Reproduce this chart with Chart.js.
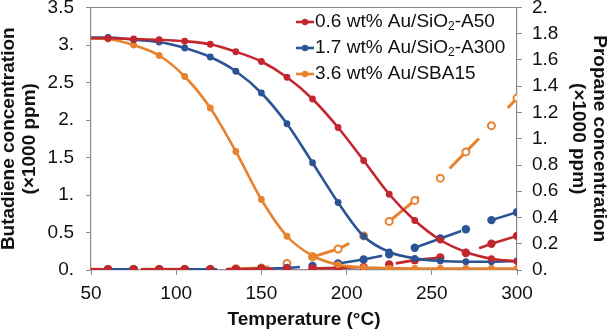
<!DOCTYPE html>
<html>
<head>
<meta charset="utf-8">
<script src="https://cdn.jsdelivr.net/npm/chart.js@4/dist/chart.umd.min.js"></script>
<style>
  html, body { margin: 0; padding: 0; background: #fff; }
  #chart { display: block; }
</style>
</head>
<body>
<canvas id="chart" width="608" height="334"></canvas>
<script>
// Temperatures (°C); 50 is only the start of each curve, it has no marker
const temps = [50, 60, 75, 90, 105, 120, 135, 150, 165, 180, 195, 210, 225, 240, 255, 270, 285, 300];

// Butadiene concentration (x1000 ppm), left axis
const butA50   = [3.09, 3.09, 3.08, 3.07, 3.05, 3.01, 2.91, 2.78, 2.57, 2.28, 1.90, 1.46, 1.01, 0.66, 0.40, 0.24, 0.15, 0.115];
const butA300  = [3.10, 3.10, 3.07, 3.04, 2.96, 2.84, 2.65, 2.36, 1.95, 1.43, 0.90, 0.45, 0.24, 0.155, 0.12, 0.11, 0.11, 0.12];
const butSBA15 = [3.09, 3.08, 3.00, 2.86, 2.58, 2.16, 1.58, 0.94, 0.45, 0.19, 0.07, 0.035, 0.025, 0.02, 0.02, 0.02, 0.02, 0.02];

// Propane concentration (x1000 ppm), right axis
const proA50   = [0.005, 0.005, 0.005, 0.005, 0.005, 0.005, 0.005, 0.01, 0.01, 0.012, 0.016, 0.022, 0.042, 0.075, 0.095, 0.13, 0.20, 0.26];
const proA300  = [0.005, 0.005, 0.005, 0.005, 0.005, 0.005, 0.005, 0.01, 0.015, 0.03, 0.05, 0.08, 0.12, 0.17, 0.24, 0.31, 0.38, 0.44];
const proSBA15 = [0.005, 0.005, 0.005, 0.005, 0.005, 0.005, 0.01, 0.015, 0.05, 0.10, 0.16, 0.26, 0.37, 0.53, 0.70, 0.90, 1.10, 1.31];

const seriesLabels = ['0.6 wt% Au/SiO₂-A50', '1.7 wt% Au/SiO₂-A300', '3.6 wt% Au/SBA15'];

// Tick values and labels
const xTicks = [50, 100, 150, 200, 250, 300];
const leftTicks = [0, 0.5, 1, 1.5, 2, 2.5, 3, 3.5];
const leftTickLabels = ['0.', '0.5', '1.', '1.5', '2.', '2.5', '3.', '3.5'];
const rightTicks = [0, 0.2, 0.4, 0.6, 0.8, 1, 1.2, 1.4, 1.6, 1.8, 2];
const rightTickLabels = ['0.', '0.2', '0.4', '0.6', '0.8', '1.', '1.2', '1.4', '1.6', '1.8', '2.'];

const RED = '#c3262d';
const BLUE = '#2b5494';
const ORANGE = '#e7822f';
const AXIS = '#8a8a8a';
const FONT = '"Liberation Sans", Arial, sans-serif';

const pts = (ys) => temps.map((t, i) => ({ x: t, y: ys[i] }));
const hideFirst = (r) => (ctx) => ctx.dataIndex === 0 ? 0 : r;

function butadiene(label, ys, color) {
  return {
    label: label,
    data: pts(ys),
    yAxisID: 'y',
    borderColor: color,
    backgroundColor: color,
    borderWidth: 2.6,
    cubicInterpolationMode: 'monotone',
    pointRadius: hideFirst(3.4),
    pointBorderWidth: 0,
    order: 1
  };
}

function propane(ys, color, dash, offset) {
  return {
    data: pts(ys),
    yAxisID: 'y1',
    borderColor: color,
    backgroundColor: color,
    borderWidth: 2.6,
    borderDash: dash,
    borderDashOffset: offset,
    tension: 0,
    pointRadius: hideFirst(4.2),
    pointBorderWidth: 0,
    order: 2
  };
}

// orange propane: open circles, with the dashed line drawn over them
const sbaPropaneMarks = {
  data: pts(proSBA15),
  yAxisID: 'y1',
  showLine: false,
  borderColor: ORANGE,
  pointBackgroundColor: '#fff',
  pointBorderColor: ORANGE,
  pointBorderWidth: 2,
  pointRadius: hideFirst(3.5),
  order: 3
};
const sbaPropaneLine = propane(proSBA15, ORANGE, [42, 42], 32);
sbaPropaneLine.pointRadius = 0;
sbaPropaneLine.borderWidth = 3;
sbaPropaneLine.order = 6;

const legendInside = {
  id: 'legendInside',
  afterDraw(chart) {
    const ctx = chart.ctx;
    const area = chart.chartArea;
    ctx.save();
    // top frame line
    ctx.strokeStyle = AXIS;
    ctx.lineWidth = 1.2;
    ctx.beginPath();
    ctx.moveTo(area.left, area.top);
    ctx.lineTo(area.right, area.top);
    ctx.stroke();

    const items = chart.data.datasets.filter(d => d.label);
    items.forEach((d, i) => {
      const y = 22 + i * 26;
      ctx.strokeStyle = d.borderColor;
      ctx.lineWidth = 2.6;
      ctx.beginPath();
      ctx.moveTo(296, y);
      ctx.lineTo(314, y);
      ctx.stroke();
      ctx.fillStyle = d.borderColor;
      ctx.beginPath();
      ctx.arc(305, y, 3.2, 0, Math.PI * 2);
      ctx.fill();

      ctx.fillStyle = '#111';
      ctx.textBaseline = 'middle';
      let x = 315;
      const parts = d.label.split('₂');
      parts.forEach((p, k) => {
        ctx.font = '19px ' + FONT;
        ctx.fillText(p, x, y);
        x += ctx.measureText(p).width;
        if (k < parts.length - 1) {
          ctx.font = '12px ' + FONT;
          ctx.fillText('2', x, y + 5);
          x += ctx.measureText('2').width;
        }
      });
    });
    ctx.restore();
  }
};

const tickFont = { family: FONT, size: 19 };
const titleFont = { family: FONT, size: 19, weight: 'bold', lineHeight: 1.1 };

function fixVertical(width) {
  return (axis) => {
    axis.width = width;
    axis.paddingTop = 7.5;
    axis.paddingBottom = 0;
  };
}

new Chart(document.getElementById('chart'), {
  type: 'line',
  data: {
    datasets: [
      butadiene(seriesLabels[0], butA50, RED),
      butadiene(seriesLabels[1], butA300, BLUE),
      butadiene(seriesLabels[2], butSBA15, ORANGE),
      propane(proA50, RED, [47, 38], 35),
      propane(proA300, BLUE, [50, 33], 7),
      sbaPropaneLine,
      sbaPropaneMarks
    ]
  },
  options: {
    responsive: false,
    animation: false,
    layout: { padding: 0 },
    plugins: {
      legend: { display: false },
      tooltip: { enabled: false }
    },
    scales: {
      x: {
        type: 'linear',
        min: 50,
        max: 300,
        afterBuildTicks: (axis) => { axis.ticks = xTicks.map(v => ({ value: v })); },
        afterFit: (axis) => { axis.height = 64; axis.paddingLeft = 0; axis.paddingRight = 0; },
        grid: { display: true, drawOnChartArea: false, drawTicks: true, tickLength: 5, color: AXIS },
        border: { display: true, color: AXIS, width: 1.2 },
        ticks: { font: tickFont, color: '#111', padding: 7, maxRotation: 0 },
        title: {
          display: true,
          text: 'Temperature (°C)',
          font: { family: FONT, size: 19, weight: 'bold' },
          color: '#111',
          padding: { top: 0, bottom: 2.5 }
        }
      },
      y: {
        position: 'left',
        min: 0,
        max: 3.5,
        afterBuildTicks: (axis) => { axis.ticks = leftTicks.map(v => ({ value: v })); },
        afterFit: fixVertical(91),
        grid: { display: true, drawOnChartArea: false, drawTicks: true, tickLength: 5, color: AXIS },
        border: { display: true, color: AXIS, width: 1.2 },
        ticks: {
          font: tickFont,
          color: '#111',
          padding: 12,
          callback: (v, i) => leftTickLabels[i]
        },
        title: {
          display: true,
          text: ['Butadiene concentration', '(×1000 ppm)'],
          font: titleFont,
          color: '#111',
          padding: { top: -2, bottom: 0 }
        }
      },
      y1: {
        position: 'right',
        min: 0,
        max: 2,
        afterBuildTicks: (axis) => { axis.ticks = rightTicks.map(v => ({ value: v })); },
        afterFit: fixVertical(91),
        grid: { display: true, drawOnChartArea: false, drawTicks: true, tickLength: 5, color: AXIS },
        border: { display: true, color: AXIS, width: 1.2 },
        ticks: {
          font: tickFont,
          color: '#111',
          padding: 10,
          callback: (v, i) => rightTickLabels[i]
        },
        title: {
          display: true,
          text: ['Propane concentration', '(×1000 ppm)'],
          font: titleFont,
          color: '#111',
          padding: { top: -2, bottom: 0 }
        }
      }
    }
  },
  plugins: [legendInside]
});
</script>
</body>
</html>
